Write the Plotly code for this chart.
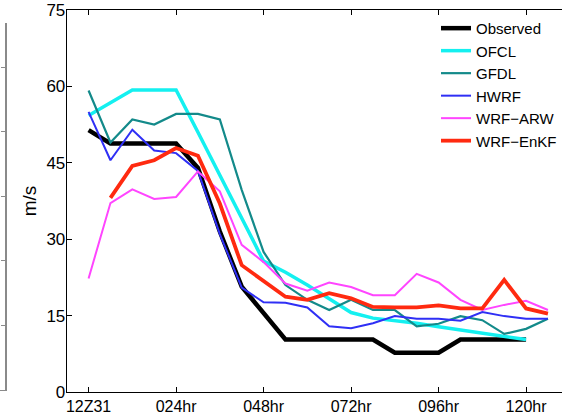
import plotly.graph_objects as go

# Forecast hours (6-hourly) and intensity series, m/s
hours = [0, 6, 12, 18, 24, 30, 36, 42, 48, 54, 60, 66, 72, 78, 84, 90, 96, 102, 108, 114, 120, 126]

observed = [51.4, 48.8, 48.8, 48.8, 48.8, 44.0, 31.5, 20.7, 15.5, 10.3, 10.3, 10.3, 10.3, 10.3,
            7.7, 7.7, 7.7, 10.3, 10.3, 10.3, 10.3]
ofcl = [54.3, 56.8, 59.3, 59.3, 59.3, 51.0, 42.6, 34.2, 25.7, 23.5, 21.0, 18.3, 15.6, 14.5,
        14.0, 13.5, 12.8, 12.2, 11.5, 10.9, 10.3]
gfdl = [59.2, 49.0, 53.5, 52.5, 54.6, 54.6, 53.5, 39.7, 27.5, 21.0, 18.1, 16.1, 18.1, 16.1,
        16.1, 12.9, 13.4, 14.9, 14.1, 11.4, 12.4, 14.4]
hwrf = [55.0, 45.5, 51.5, 47.4, 46.9, 43.4, 31.0, 20.5, 17.6, 17.5, 16.6, 12.9, 12.5, 13.5,
        14.9, 14.4, 14.4, 14.0, 15.7, 14.9, 14.4, 14.4]
wrf_arw = [22.3, 37.1, 39.8, 37.9, 38.3, 43.3, 39.4, 28.9, 25.5, 21.3, 19.9, 21.5, 20.6, 19.0,
           19.0, 23.2, 21.5, 18.1, 16.1, 17.1, 17.9, 16.1]
wrf_enkf_hours = hours[1:]
wrf_enkf = [38.1, 44.4, 45.5, 47.9, 46.4, 37.0, 24.9, 21.7, 18.7, 18.1, 19.4, 18.4, 16.7, 16.6,
            16.6, 17.0, 16.4, 16.4, 22.0, 16.4, 15.4]

tick_hours = [0, 24, 48, 72, 96, 120]
tick_text = ["12Z31", "024hr", "048hr", "072hr", "096hr", "120hr"]
y_ticks = [0, 15, 30, 45, 60, 75]

series = [
    ("Observed", hours[:len(observed)], observed, "#000000", 4.5),
    ("OFCL", hours[:len(ofcl)], ofcl, "#14f0f0", 3.5),
    ("GFDL", hours, gfdl, "#138a8a", 2.2),
    ("HWRF", hours, hwrf, "#2f2ff5", 2.0),
    ("WRF\u2212ARW", hours, wrf_arw, "#ff45ff", 2.0),
    ("WRF\u2212EnKF", wrf_enkf_hours, wrf_enkf, "#ff2a10", 3.8),
]

W, H = 562, 416
FONT = "Liberation Sans, Arial, Helvetica, sans-serif"

fig = go.Figure()
for name, x, y, color, width in series:
    fig.add_trace(go.Scatter(x=x, y=y, mode="lines", name=name,
                             line=dict(color=color, width=width)))

# top frame of the main axes (inward ticks, no labels)
fig.add_trace(go.Scatter(x=[], y=[], xaxis="x2", yaxis="y", showlegend=False, hoverinfo="skip"))
# edge of the neighbouring panel on the far left
fig.add_trace(go.Scatter(x=[], y=[], xaxis="x3", yaxis="y3", showlegend=False, hoverinfo="skip"))

left_px = 66.7
x_lo = -6
px_per_hr = 87.5 / 24
x_hi = x_lo + (W - left_px) / px_per_hr

axis_common = dict(showgrid=False, zeroline=False, showline=True, linecolor="black",
                   linewidth=1, ticks="inside", ticklen=5, tickcolor="black", tickwidth=1)

fig.update_layout(
    width=W, height=H,
    margin=dict(l=0, r=0, t=10, b=24),
    paper_bgcolor="white", plot_bgcolor="white",
    font=dict(family=FONT, color="black"),
    xaxis=dict(domain=[left_px / W, 1], range=[x_lo, x_hi], tickvals=tick_hours,
               ticktext=tick_text, tickfont=dict(size=16), **axis_common),
    xaxis2=dict(domain=[left_px / W, 1], range=[x_lo, x_hi], overlaying="x", side="top",
                anchor="y", tickvals=tick_hours, showticklabels=False, **axis_common),
    yaxis=dict(range=[0, 75], tickvals=y_ticks, tickfont=dict(size=17), ticklabelstandoff=-3,
               title=dict(text="m/s", font=dict(size=19), standoff=4), **axis_common),
    xaxis3=dict(domain=[0, 4.5 / W], range=[0, 1], anchor="y3", showgrid=False,
                zeroline=False, showline=True, linecolor="#8a8a8a", showticklabels=False,
                ticks=""),
    yaxis3=dict(domain=[(392 - 390) / 382, (392 - 22.7) / 382], range=[0, 5.69],
                anchor="x3", side="right", showgrid=False, zeroline=False, showline=True,
                linecolor="#8a8a8a", linewidth=1.5, ticks="inside", ticklen=4,
                tickcolor="#8a8a8a", tickvals=[0, 1, 2, 3, 4, 5], showticklabels=False),
    legend=dict(x=436 / W, y=0.995, xanchor="left", yanchor="top", bgcolor="rgba(0,0,0,0)",
                font=dict(size=15), tracegroupgap=0, itemwidth=30),
    showlegend=True,
)

fig.write_html("out.html")
